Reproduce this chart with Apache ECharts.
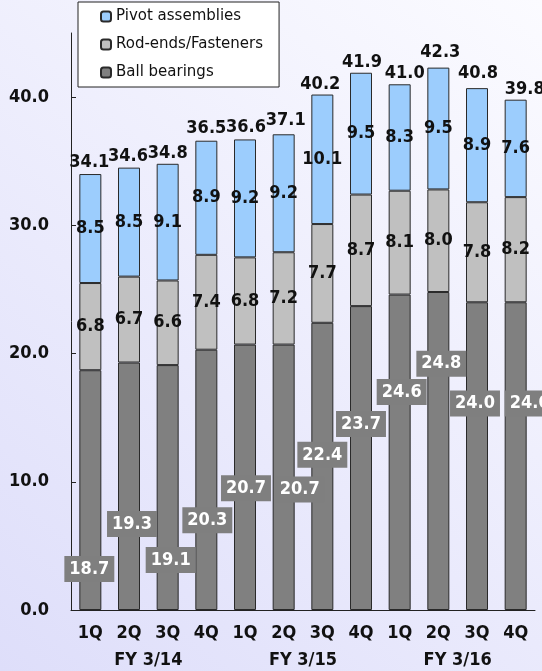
<!DOCTYPE html>
<html><head><meta charset="utf-8">
<script src="https://cdn.jsdelivr.net/npm/echarts@6/dist/echarts.min.js"></script>
<style>html,body{margin:0;padding:0;}#c{width:542px;height:671px;}</style>
</head><body><div id="c"></div>
<script>
const quarters = ['1Q','2Q','3Q','4Q','1Q','2Q','3Q','4Q','1Q','2Q','3Q','4Q'];
const fiscalYears = ['FY 3/14','FY 3/15','FY 3/16'];
const ballBearings = [18.7,19.3,19.1,20.3,20.7,20.7,22.4,23.7,24.6,24.8,24.0,24.0];
const rodEnds = [6.8,6.7,6.6,7.4,6.8,7.2,7.7,8.7,8.1,8.0,7.8,8.2];
const pivot = [8.5,8.5,9.1,8.9,9.2,9.2,10.1,9.5,8.3,9.5,8.9,7.6];
const totals = [34.1,34.6,34.8,36.5,36.6,37.1,40.2,41.9,41.0,42.3,40.8,39.8];
const yTicks = [0,10,20,30,40];

// layout only: where the ball-bearing label boxes sit (axis value) and small pixel nudges
const ballLabelLevel = [3.2,6.7,3.9,7.0,9.5,9.4,12.1,14.5,17.0,19.2,16.1,16.1];
const ballLabelNudgeX = [-1,3,3,1,1,16,0,0,2,3,-2,14];
const totalNudge = [[-1,0],[-1,0],[0,0],[0,-3],[1,-3],[2,-3],[-2,0],[1,0],[5,0],[2,-5],[1,-3],[9,0]];

const FONT = '"DejaVu Sans Condensed", "DejaVu Sans", sans-serif';
const LFONT = '"DejaVu Sans", sans-serif';
const chart = echarts.init(document.getElementById('c'), null, {renderer:'canvas'});
const barBorder = {borderColor:'#2a2a2a', borderWidth:1};
const innerLabel = {show:true, position:'inside', color:'#111', fontWeight:'bold', fontSize:18, fontFamily:FONT,
  formatter: p => p.value.toFixed(1)};

chart.setOption({
  backgroundColor: new echarts.graphic.LinearGradient(1,0,0,1,[{offset:0,color:'#fbfbff'},{offset:1,color:'#dedefa'}]),
  animation:false,
  grid:{left:71,right:7,top:33,bottom:61},
  legend:{
    data:['Pivot assemblies','Rod-ends/Fasteners','Ball bearings'],
    orient:'vertical', left:78, top:2,
    backgroundColor:'#fff', borderColor:'#222', borderWidth:1,
    padding:[7,16,7,22], itemWidth:10, itemHeight:10, itemGap:13,
    textStyle:{fontSize:15, color:'#111', fontFamily:LFONT}
  },
  xAxis:[
    {type:'category', data:quarters, position:'bottom',
     axisLine:{lineStyle:{color:'#222',width:1}},
     axisTick:{inside:true,length:7,lineStyle:{color:'#222'}},
     axisLabel:{margin:14,color:'#111',fontWeight:'bold',fontSize:18,fontFamily:FONT}},
    {type:'category', data:quarters, position:'bottom',
     axisLine:{show:false}, axisLabel:{show:false},
     axisTick:{length:31,lineStyle:{color:'#222'}}},
    {type:'category', data:fiscalYears, position:'bottom',
     axisLine:{show:false},
     axisTick:{length:61,lineStyle:{color:'#222'}},
     axisLabel:{margin:41,color:'#111',fontWeight:'bold',fontSize:18,fontFamily:FONT}}
  ],
  yAxis:{type:'value', min:0, max:45, interval:10,
    axisLine:{show:true,lineStyle:{color:'#222'}},
    axisTick:{show:true,inside:true,length:5,customValues:yTicks,lineStyle:{color:'#222'}},
    splitLine:{show:false},
    axisLabel:{margin:22,color:'#111',fontWeight:'bold',fontSize:18,fontFamily:FONT,
      customValues:yTicks, formatter:v=>v.toFixed(1)}},
  series:[
    {name:'Ball bearings', type:'bar', stack:'t', barWidth:22, data:ballBearings,
     itemStyle:Object.assign({color:'#808080'},barBorder)},
    {name:'Rod-ends/Fasteners', type:'bar', stack:'t', barWidth:22, data:rodEnds,
     itemStyle:Object.assign({color:'#c0c0c0'},barBorder), label:innerLabel},
    {name:'Pivot assemblies', type:'bar', stack:'t', barWidth:22, data:pivot,
     itemStyle:Object.assign({color:'#9ccdfd'},barBorder), label:innerLabel},
    {name:'bbLabels', type:'scatter', z:5, symbolSize:1, itemStyle:{color:'rgba(0,0,0,0)', opacity:1},
     data:ballLabelLevel.map((v,i)=>({value:[i,v], label:{offset:[ballLabelNudgeX[i],0]}})),
     label:{show:true, position:'inside', color:'#fff', fontWeight:'bold', fontSize:18, fontFamily:FONT,
       backgroundColor:'#7f7f7f', padding:[4,5,4,5], opacity:1,
       formatter:p=>ballBearings[p.dataIndex].toFixed(1)}},
    {name:'totals', type:'scatter', z:5, symbolSize:1, itemStyle:{color:'rgba(0,0,0,0)', opacity:1},
     data:totals.map((v,i)=>({value:[i,v], label:{offset:totalNudge[i]}})),
     label:{show:true, position:'top', distance:1, color:'#111', fontWeight:'bold', fontSize:18, fontFamily:FONT,
       formatter:p=>totals[p.dataIndex].toFixed(1)}}
  ]
});
</script></body></html>
